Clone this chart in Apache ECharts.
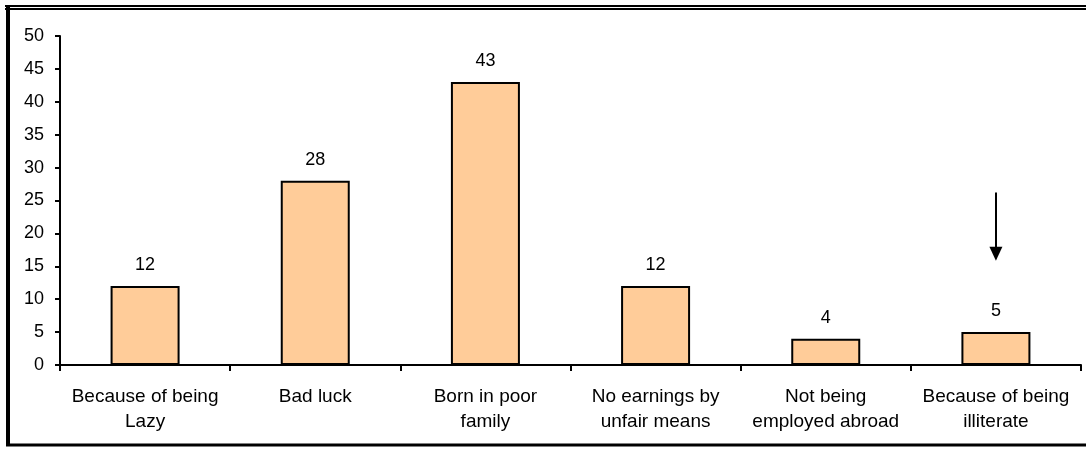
<!DOCTYPE html>
<html>
<head>
<meta charset="utf-8">
<script src="https://cdn.jsdelivr.net/npm/echarts@6/dist/echarts.min.js"></script>
<style>
  html, body { margin: 0; padding: 0; background: #fff; }
  #chart { width: 1086px; height: 449px; }
</style>
</head>
<body>
<div id="chart"></div>
<script>
const categories = [
  'Because of being\nLazy',
  'Bad luck',
  'Born in poor\nfamily',
  'No earnings by\nunfair means',
  'Not being\nemployed abroad',
  'Because of being\nilliterate'
];
const values = [12, 28, 43, 12, 4, 5];
// arrow pointing at the last bar (value range of the annotation)
const arrowFrom = 26.2;
const arrowTo = 16.9;

const chart = echarts.init(document.getElementById('chart'));
const font = 'Liberation Sans, Arial, sans-serif';

const option = {
  animation: false,
  grid: { left: 60, right: 5, top: 36, bottom: 84 },
  xAxis: {
    type: 'category',
    data: categories,
    axisLine: { lineStyle: { color: '#000', width: 2 } },
    axisTick: { show: true, length: 6, lineStyle: { color: '#000', width: 2 } },
    axisLabel: {
      color: '#000', fontFamily: font, fontSize: 19,
      lineHeight: 25, margin: 19, interval: 0
    }
  },
  yAxis: {
    type: 'value',
    min: 0, max: 50, interval: 5,
    axisLine: { show: true, lineStyle: { color: '#000', width: 2 } },
    axisTick: { show: true, length: 5, lineStyle: { color: '#000', width: 2 } },
    splitLine: { show: false },
    axisLabel: { color: '#000', fontFamily: font, fontSize: 18, margin: 16 }
  },
  series: [{
    type: 'bar',
    data: values,
    barWidth: 69,
    itemStyle: { color: '#FFCC99', borderColor: '#000', borderWidth: 2 },
    label: {
      show: true, position: 'top', distance: 12,
      color: '#000', fontFamily: font, fontSize: 18
    },
    markLine: {
      silent: true,
      symbol: ['none', 'triangle'],
      symbolSize: [13, 14],
      label: { show: false },
      lineStyle: { color: '#000', width: 2, type: 'solid' },
      itemStyle: { color: '#000' },
      data: [[
        { coord: [categories[5], arrowFrom] },
        { coord: [categories[5], arrowTo] }
      ]]
    }
  }],
  graphic: [
    { type: 'line', shape: { x1: 5, y1: 6, x2: 1086, y2: 6 }, style: { stroke: '#000', lineWidth: 2 } },
    { type: 'line', shape: { x1: 5, y1: 9, x2: 1086, y2: 9 }, style: { stroke: '#000', lineWidth: 2 } },
    { type: 'line', shape: { x1: 8, y1: 5, x2: 8, y2: 446 }, style: { stroke: '#000', lineWidth: 4 } },
    { type: 'line', shape: { x1: 6, y1: 445, x2: 1086, y2: 445 }, style: { stroke: '#000', lineWidth: 3 } }
  ]
};
chart.setOption(option);
</script>
</body>
</html>
